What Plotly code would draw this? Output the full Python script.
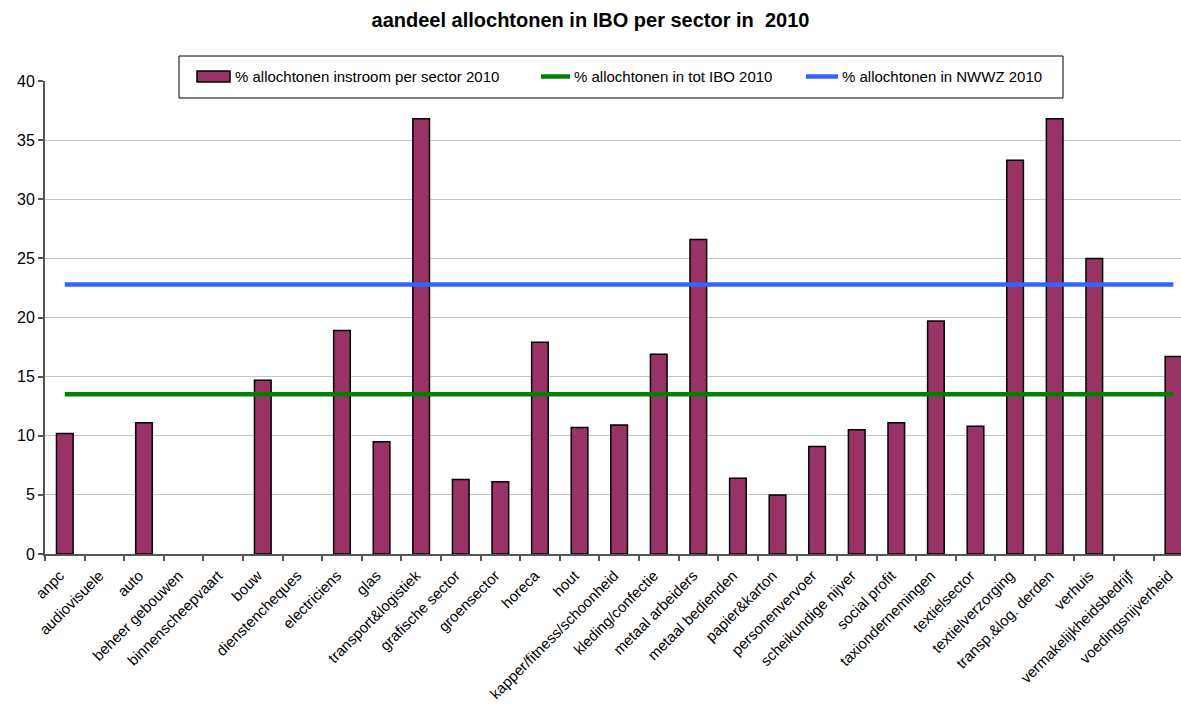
import plotly.graph_objects as go

# Sectors and their share of newcomers of foreign origin (%); None = no inflow reported
sectors = [
    "anpc", "audiovisuele", "auto", "beheer gebouwen", "binnenscheepvaart",
    "bouw", "dienstencheques", "electriciens", "glas", "transport&logistiek",
    "grafische sector", "groensector", "horeca", "hout",
    "kapper/fitness/schoonheid", "kleding/confectie", "metaal arbeiders",
    "metaal bedienden", "papier&karton", "personenvervoer",
    "scheikundige nijver", "social profit", "taxiondernemingen",
    "textielsector", "textielverzorging", "transp.&log. derden", "verhuis",
    "vermakelijkheidsbedrijf", "voedingsnijverheid",
]
instroom_2010 = [
    10.2, None, 11.1, None, None,
    14.7, None, 18.9, 9.5, 36.8,
    6.3, 6.1, 17.9, 10.7,
    10.9, 16.9, 26.6,
    6.4, 5.0, 9.1,
    10.5, 11.1, 19.7,
    10.8, 33.3, 36.8, 25.0,
    None, 16.7,
]
# Reference levels
ibo_total_2010 = 13.5
nwwz_2010 = 22.8

y_ticks = [0, 5, 10, 15, 20, 25, 30, 35, 40]

series_names = [
    "% allochtonen instroom per sector 2010",
    "% allochtonen in tot IBO 2010",
    "% allochtonen in NWWZ 2010",
]
BAR_COLOR = "#993366"
IBO_COLOR = "#008000"
NWWZ_COLOR = "#3366FF"

FONT = "Liberation Sans, Arial, sans-serif"

W, H = 1181, 715
ML, MR, MT, MB = 45, 0, 81, 161
PLOT_W = W - ML - MR
PLOT_H = H - MT - MB


def px_x(px):
    """Page pixel column -> paper x."""
    return (px - ML) / PLOT_W


def px_y(py):
    """Page pixel row -> paper y."""
    return (H - MB - py) / PLOT_H


fig = go.Figure()
fig.add_trace(go.Bar(
    x=sectors, y=instroom_2010,
    name=series_names[0],
    width=0.42,
    marker=dict(color=BAR_COLOR, line=dict(color="#000000", width=1.5)),
    showlegend=False,
))
fig.add_trace(go.Scatter(
    x=sectors, y=[ibo_total_2010] * len(sectors),
    mode="lines", name=series_names[1],
    line=dict(color=IBO_COLOR, width=4.5),
    showlegend=False,
))
fig.add_trace(go.Scatter(
    x=sectors, y=[nwwz_2010] * len(sectors),
    mode="lines", name=series_names[2],
    line=dict(color=NWWZ_COLOR, width=4.5),
    showlegend=False,
))

# Boxed legend across the top of the plot
shapes = [
    dict(type="rect", xref="paper", yref="paper",
         x0=px_x(179), x1=px_x(1063), y0=px_y(98), y1=px_y(56),
         line=dict(color="#000000", width=1), fillcolor="white", layer="above"),
    dict(type="rect", xref="paper", yref="paper",
         x0=px_x(197), x1=px_x(230), y0=px_y(82), y1=px_y(71),
         line=dict(color="#000000", width=1.5), fillcolor=BAR_COLOR, layer="above"),
    dict(type="line", xref="paper", yref="paper",
         x0=px_x(541), x1=px_x(570), y0=px_y(76.5), y1=px_y(76.5),
         line=dict(color=IBO_COLOR, width=4.5), layer="above"),
    dict(type="line", xref="paper", yref="paper",
         x0=px_x(806), x1=px_x(838), y0=px_y(76.5), y1=px_y(76.5),
         line=dict(color=NWWZ_COLOR, width=4.5), layer="above"),
]
legend_text_x = [233, 572, 840]
annotations = [
    dict(text=name, xref="paper", yref="paper",
         x=px_x(tx), y=px_y(77), xanchor="left", yanchor="middle",
         showarrow=False, font=dict(family=FONT, size=15, color="#000000"))
    for name, tx in zip(series_names, legend_text_x)
]

fig.update_layout(
    width=W, height=H,
    margin=dict(l=ML, r=MR, t=MT, b=MB, autoexpand=False),
    paper_bgcolor="white", plot_bgcolor="white",
    font=dict(family=FONT, size=15, color="#000000"),
    title=dict(
        text="<b>aandeel allochtonen in IBO per sector in  2010</b>",
        x=0.5, xanchor="center", y=1 - 20 / H, yanchor="middle",
        font=dict(family=FONT, size=20, color="#000000"),
    ),
    showlegend=False,
    shapes=shapes,
    annotations=annotations,
)
fig.update_xaxes(
    type="category",
    range=[-0.5, 28.19],
    automargin=False,
    tickangle=-45,
    tickson="boundaries",
    ticks="outside", ticklen=5, tickcolor="#555555", tickwidth=1.5,
    ticklabelshift=-5, ticklabelstandoff=5,
    showline=True, linecolor="#555555", linewidth=2,
    showgrid=False,
    tickfont=dict(family=FONT, size=15, color="#000000"),
)
fig.update_yaxes(
    range=[0, 40],
    tickvals=y_ticks,
    automargin=False,
    ticks="outside", ticklen=5, tickcolor="#555555", tickwidth=1.5,
    showline=True, linecolor="#555555", linewidth=2,
    showgrid=True, gridcolor="#c4c4c4", gridwidth=1,
    zeroline=False,
    tickfont=dict(family=FONT, size=16, color="#000000"),
)

fig.write_html("out.html")
